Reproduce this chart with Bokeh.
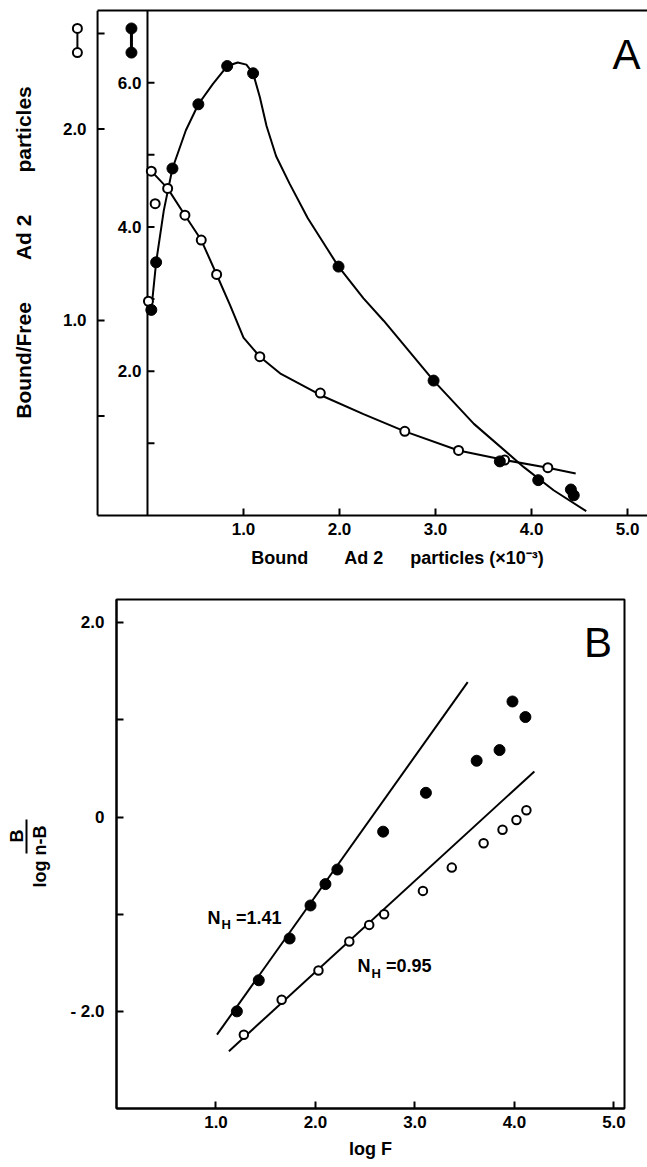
from bokeh.plotting import figure
from bokeh.models import LinearAxis, Range1d, FixedTicker, Label, PrintfTickFormatter
from bokeh.embed import file_html
from bokeh.resources import INLINE
from bokeh.core.properties import value

FONT = "Liberation Sans"

# ---------------- Panel A data (x in units of 10^3 bound particles) ----------------
a_open_x = [0.01, 0.04, 0.08, 0.21, 0.39, 0.56, 0.72, 1.17, 1.80, 2.68, 3.24, 3.72, 4.17]
a_open_y = [1.10, 1.78, 1.61, 1.69, 1.55, 1.42, 1.24, 0.81, 0.62, 0.42, 0.32, 0.27, 0.23]
a_filled_x = [0.04, 0.09, 0.26, 0.53, 0.83, 1.10, 1.99, 2.98, 3.67, 4.07, 4.41, 4.44]
a_filled_y = [2.85, 3.51, 4.81, 5.70, 6.23, 6.13, 3.45, 1.87, 0.75, 0.49, 0.36, 0.28]
a_open_curve_x = [0.04, 0.21, 0.39, 0.56, 0.72, 0.86, 1.00, 1.17, 1.39, 1.80, 2.25, 2.68, 3.24, 3.72, 4.17, 4.46]
a_open_curve_y = [1.78, 1.69, 1.55, 1.42, 1.24, 1.08, 0.91, 0.81, 0.72, 0.61, 0.51, 0.42, 0.32, 0.27, 0.23, 0.20]
a_filled_curve_x = [0.04, 0.09, 0.17, 0.26, 0.40, 0.53, 0.68, 0.83, 0.94, 1.03, 1.10, 1.17, 1.24,
                    1.34, 1.48, 1.67, 1.87, 1.99, 2.25, 2.46, 2.98, 3.40, 3.92, 4.23, 4.57]
a_filled_curve_y = [2.85, 3.51, 4.23, 4.81, 5.34, 5.70, 5.98, 6.23, 6.28, 6.25, 6.13, 5.80, 5.40,
                    4.98, 4.60, 4.12, 3.70, 3.45, 3.01, 2.70, 1.87, 1.27, 0.67, 0.35, 0.06]
a_x_ticks = [1, 2, 3, 4, 5]
a_outer_ticks = [0.5, 1.0, 2.0, 2.5]
a_outer_label_values = [1.0, 2.0]
a_outer_label_text = ["1.0", "2.0"]
a_inner_ticks = [1, 2, 3, 4, 5, 6]
a_inner_label_values = [2, 4, 6]
a_inner_label_text = ["2.0", "4.0", "6.0"]

# ---------------- Panel B data ----------------
b_filled_x = [1.21, 1.43, 1.74, 1.95, 2.10, 2.22, 2.68, 3.11, 3.62, 3.85, 3.98, 4.11]
b_filled_y = [-2.00, -1.68, -1.25, -0.91, -0.69, -0.54, -0.15, 0.25, 0.58, 0.69, 1.19, 1.03]
b_open_x = [1.28, 1.66, 2.03, 2.34, 2.54, 2.69, 3.08, 3.37, 3.69, 3.88, 4.02, 4.12]
b_open_y = [-2.24, -1.88, -1.58, -1.28, -1.11, -1.00, -0.76, -0.52, -0.27, -0.13, -0.03, 0.07]
b_fit_filled_x = [1.01, 3.53]
b_fit_filled_y = [-2.24, 1.39]
b_fit_open_x = [1.13, 4.20]
b_fit_open_y = [-2.41, 0.47]
b_x_ticks = [1, 2, 3, 4, 5]
b_y_ticks = [-2, -1, 0, 1, 2]
b_y_labels = {-2: "- 2.0", -1: "", 0: "0", 1: "", 2: "2.0"}

W = 647
EM = "\u2003"
EN = "\u2002"
TICK_FONT = "17px"


def style_axis(ax, size=TICK_FONT, tick_in=7):
    ax.axis_line_width = 2
    ax.axis_line_color = "black"
    ax.major_tick_line_width = 2
    ax.major_tick_line_color = "black"
    ax.major_tick_in = tick_in
    ax.major_tick_out = 0
    ax.minor_tick_in = 0
    ax.minor_tick_out = 0
    ax.minor_tick_line_color = None
    ax.major_label_text_font = FONT
    ax.major_label_text_font_style = "bold"
    ax.major_label_text_font_size = size
    ax.major_label_text_color = "black"
    ax.axis_label_text_font = FONT
    ax.axis_label_text_font_style = "bold"
    ax.axis_label_text_font_size = "18px"
    ax.axis_label_text_color = "black"


def title_axis(label, standoff, size="18px", bounds="auto", line=False):
    ax = LinearAxis(ticker=FixedTicker(ticks=[]), bounds=bounds, axis_label=label)
    style_axis(ax)
    ax.major_tick_in = 0
    ax.major_label_standoff = 0
    ax.major_label_text_font_size = "0px"
    ax.axis_label_standoff = standoff
    ax.axis_label_text_font_size = size
    if not line:
        ax.axis_line_color = None
    return ax


# ================= Panel A =================
A_X0, A_X1 = -1.031, 5.208
A_Y0, A_Y1 = -0.02, 2.62
A_LEFT = -0.52          # position of the outer (open-circle) ordinate
A_INNER = 0.0           # position of the inner (filled-circle) ordinate
pA = figure(width=W, height=580, output_backend="svg", toolbar_location=None,
            x_range=Range1d(A_X0, A_X1), y_range=Range1d(A_Y0, A_Y1),
            x_axis_location=None, y_axis_location=None,
            min_border_left=48, min_border_right=0, min_border_top=10, min_border_bottom=65)
pA.extra_y_ranges = {"inner": Range1d(0, 7.0)}
pA.grid.visible = False
pA.outline_line_color = None

# y-axis title (side panel)
pA.add_layout(title_axis(EM + "Bound/Free" + EM * 2 + "Ad 2" + EM * 2 + "particles", 14, size="21px"),
              "left")

# bottom axis and top border
bottomA = LinearAxis(bounds=(A_LEFT, A_X1), ticker=FixedTicker(ticks=a_x_ticks),
                     formatter=PrintfTickFormatter(format="%.1f"),
                     axis_label=EM * 5 + EN + "Bound" + EM * 2 + "Ad 2" + EM + EN
                     + "particles (\u00d710\u207b\u00b3)")
style_axis(bottomA)
bottomA.major_label_standoff = 7
bottomA.axis_label_standoff = 10
pA.add_layout(bottomA, "below")

topA = LinearAxis(bounds=(A_LEFT, A_X1), ticker=FixedTicker(ticks=[]))
style_axis(topA)
topA.major_label_text_font_size = "0px"
topA.major_label_standoff = 0
pA.add_layout(topA, "above")

# outer ordinate (open circles) and inner ordinate (filled circles), drawn inside the frame
pA.segment(x0=[A_LEFT, A_INNER], y0=[A_Y0, A_Y0], x1=[A_LEFT, A_INNER], y1=[A_Y1, A_Y1],
           line_color="black", line_width=2)
pA.ray(x=[A_LEFT] * len(a_outer_ticks), y=a_outer_ticks, length=7, length_units="screen",
       angle=0, line_color="black", line_width=2)
pA.ray(x=[A_INNER] * len(a_inner_ticks), y=a_inner_ticks, length=7, length_units="screen",
       angle=0, line_color="black", line_width=2, y_range_name="inner")
pA.text(x=[A_LEFT] * len(a_outer_label_values), y=a_outer_label_values, text=a_outer_label_text,
        x_offset=-11, text_align="right", text_baseline="middle", text_font=value(FONT),
        text_font_style="bold", text_font_size=TICK_FONT, text_color="black")
pA.text(x=[A_INNER] * len(a_inner_label_values), y=a_inner_label_values, text=a_inner_label_text,
        x_offset=-6, text_align="right", text_baseline="middle", text_font=value(FONT),
        text_font_style="bold", text_font_size=TICK_FONT, text_color="black", y_range_name="inner")

pA.line(a_open_curve_x, a_open_curve_y, line_color="black", line_width=2)
pA.line(a_filled_curve_x, a_filled_curve_y, line_color="black", line_width=2, y_range_name="inner")
pA.scatter(a_open_x, a_open_y, size=9, fill_color="white", line_color="black", line_width=2)
pA.scatter(a_filled_x, a_filled_y, size=11, fill_color="black", line_color="black",
           y_range_name="inner")

# legend keys (dumbbell symbols) at top left
KEY_OPEN_X, KEY_FILLED_X = -0.73, -0.167
KEY_Y = [2.526, 2.40]
pA.line([KEY_OPEN_X] * 2, KEY_Y, line_color="black", line_width=2)
pA.scatter([KEY_OPEN_X] * 2, KEY_Y, size=9, fill_color="white", line_color="black", line_width=2)
pA.line([KEY_FILLED_X] * 2, KEY_Y, line_color="black", line_width=3)
pA.scatter([KEY_FILLED_X] * 2, KEY_Y, size=11, fill_color="black", line_color="black")

pA.add_layout(Label(x=5.135, y=2.39, text="A", text_align="right", text_baseline="alphabetic",
                    text_font=FONT, text_font_size="42px", text_color="black"))

# ================= Panel B =================
pB = figure(width=W, height=582, output_backend="svg", toolbar_location=None,
            x_range=Range1d(0, 5.106), y_range=Range1d(-3.0, 2.24),
            min_border_left=116, min_border_right=23, min_border_top=19, min_border_bottom=54)
pB.grid.visible = False
pB.outline_line_color = "black"
pB.outline_line_width = 2
pB.outline_line_alpha = 1.0
pB.xaxis.ticker = FixedTicker(ticks=b_x_ticks)
pB.xaxis.formatter = PrintfTickFormatter(format="%.1f")
pB.yaxis.ticker = FixedTicker(ticks=b_y_ticks)
pB.yaxis.major_label_overrides = b_y_labels
for ax in pB.xaxis + pB.yaxis:
    style_axis(ax)
pB.xaxis.major_label_standoff = 7
pB.xaxis.axis_label = "log F"
pB.xaxis.axis_label_standoff = 8
pB.yaxis.major_label_standoff = 12

# y-axis title: log B/(n-B); the fraction bar is the line of the outermost title axis
pB.add_layout(title_axis("log  n-B", 18), "left")
pB.add_layout(title_axis(EM * 2 + "B", 0, bounds=(-0.37, -0.02), line=True), "left")

pB.line(b_fit_filled_x, b_fit_filled_y, line_color="black", line_width=2)
pB.line(b_fit_open_x, b_fit_open_y, line_color="black", line_width=2)
pB.scatter(b_filled_x, b_filled_y, size=11, fill_color="black", line_color="black")
pB.scatter(b_open_x, b_open_y, size=8.5, fill_color="white", line_color="black", line_width=2)


def blabel(x, y, text, size="18px", style="bold"):
    pB.add_layout(Label(x=x, y=y, text=text, text_font=FONT, text_font_size=size,
                        text_font_style=style, text_align="left", text_baseline="alphabetic",
                        text_color="black"))


blabel(0.915, -1.041, "N")
blabel(1.055, -1.103, "H", size="13px")
blabel(1.200, -1.041, "=1.41")
blabel(2.422, -1.536, "N")
blabel(2.563, -1.608, "H", size="13px")
blabel(2.708, -1.536, "=0.95")
blabel(4.70, 1.80, "B", size="42px", style="normal")

open("out.html", "w").write(file_html([pA, pB], INLINE))
